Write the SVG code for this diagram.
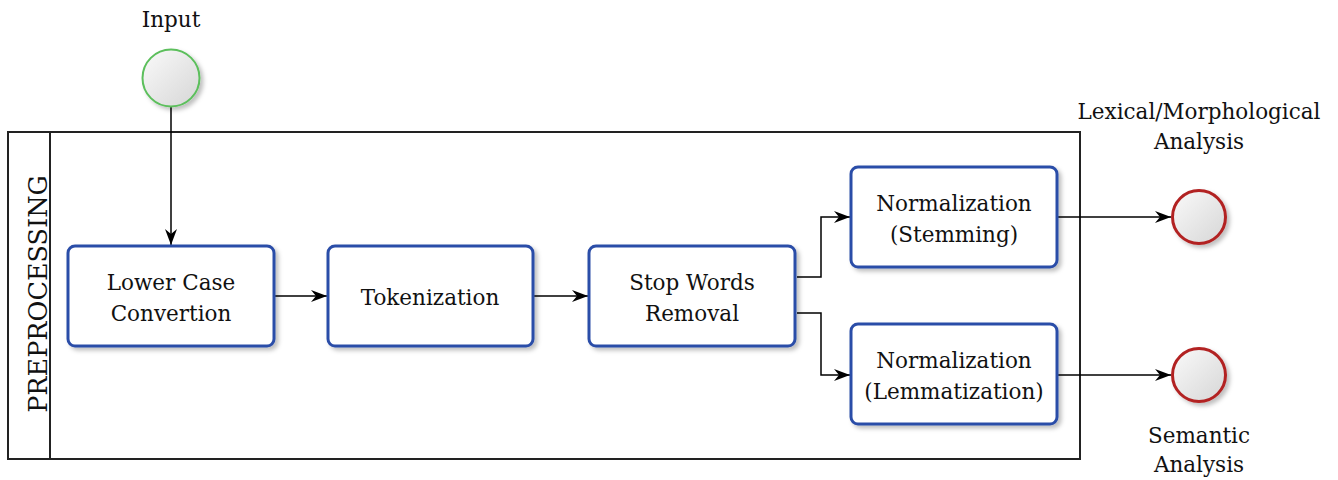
<svg xmlns="http://www.w3.org/2000/svg" width="1338" height="480" viewBox="0 0 1338 480">
<style>
text{font-family:"DejaVu Serif","Liberation Serif",serif;font-size:21.5px;fill:#111;text-anchor:middle}
.task{fill:#fff;stroke:#2c4ea8;stroke-width:3}
.conn{fill:none;stroke:#000;stroke-width:1.5}
.pool{fill:none;stroke:#222;stroke-width:2}
</style>
<defs>
<linearGradient id="g" x1="0" y1="0" x2="1" y2="1">
<stop offset="0" stop-color="#fafafa"/><stop offset="1" stop-color="#d6d6d6"/>
</linearGradient>
<filter id="sh" x="-10%" y="-10%" width="130%" height="130%">
<feDropShadow dx="3" dy="3" stdDeviation="2" flood-color="#000" flood-opacity="0.25"/>
</filter>
<marker id="arr" markerWidth="16" markerHeight="12" refX="16" refY="6" orient="auto" markerUnits="userSpaceOnUse">
<path d="M0,0 L16,6 L0,12 L5,6 Z" fill="#000"/>
</marker>
</defs>
<rect width="1338" height="480" fill="#fff"/>
<g id="pool">
<rect class="pool" x="8" y="132" width="1072" height="327"/>
<line class="pool" x1="50" y1="132" x2="50" y2="459"/>
<text transform="translate(47,294) rotate(-90)" style="font-size:25.5px">PREPROCESSING</text>
</g>
<g id="connectors">
<path class="conn" d="M171,107 V245" marker-end="url(#arr)"/>
<path class="conn" d="M274,296 H327" marker-end="url(#arr)"/>
<path class="conn" d="M533,296 H588" marker-end="url(#arr)"/>
<path class="conn" d="M797,277 H821 V217 H850" marker-end="url(#arr)"/>
<path class="conn" d="M797,313 H821 V375 H850" marker-end="url(#arr)"/>
<path class="conn" d="M1057,217 H1171" marker-end="url(#arr)"/>
<path class="conn" d="M1057,375 H1171" marker-end="url(#arr)"/>
</g>
<g id="input">
<circle cx="171" cy="78" r="28.5" fill="url(#g)" stroke="#5cbf5c" stroke-width="2" filter="url(#sh)"/>
<text x="171" y="27">Input</text>
</g>
<g id="lowercase">
<rect class="task" x="68" y="246" width="206" height="100" rx="7" filter="url(#sh)"/>
<text x="171" y="290">Lower Case</text>
<text x="171" y="321">Convertion</text>
</g>
<g id="tokenization">
<rect class="task" x="328" y="246" width="205" height="100" rx="7" filter="url(#sh)"/>
<text x="430" y="305">Tokenization</text>
</g>
<g id="stopwords">
<rect class="task" x="589" y="246" width="206" height="100" rx="7" filter="url(#sh)"/>
<text x="692" y="290">Stop Words</text>
<text x="692" y="321">Removal</text>
</g>
<g id="stemming">
<rect class="task" x="851" y="167" width="206" height="100" rx="7" filter="url(#sh)"/>
<text x="954" y="211">Normalization</text>
<text x="954" y="242">(Stemming)</text>
</g>
<g id="lemmatization">
<rect class="task" x="851" y="324" width="206" height="100" rx="7" filter="url(#sh)"/>
<text x="954" y="368">Normalization</text>
<text x="954" y="399">(Lemmatization)</text>
</g>
<g id="lexical">
<circle cx="1199" cy="217" r="26.5" fill="url(#g)" stroke="#b22222" stroke-width="3" filter="url(#sh)"/>
<text x="1199" y="119">Lexical/Morphological</text>
<text x="1199" y="149">Analysis</text>
</g>
<g id="semantic">
<circle cx="1199" cy="375" r="26.5" fill="url(#g)" stroke="#b22222" stroke-width="3" filter="url(#sh)"/>
<text x="1199" y="443">Semantic</text>
<text x="1199" y="472">Analysis</text>
</g>
</svg>
